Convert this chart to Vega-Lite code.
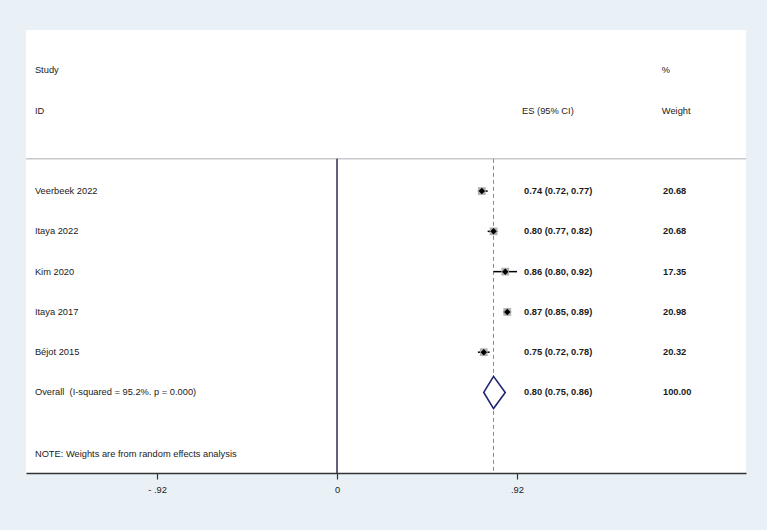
{
  "$schema": "https://vega.github.io/schema/vega-lite/v6.json",
  "width": 720,
  "height": 443,
  "autosize": {"type": "none"},
  "padding": {"left": 26, "top": 30, "right": 21, "bottom": 57},
  "background": "#e9f1f6",
  "config": {
    "view": {"fill": "white", "stroke": null},
    "font": "Liberation Sans",
    "text": {"font": "Liberation Sans", "fontSize": 9.3, "baseline": "middle", "align": "left", "color": "#1a1a1a"}
  },
  "datasets": {
    "studies": [
      {"study": "Veerbeek 2022", "row": 4, "es": 0.74, "lo": 0.72, "hi": 0.77, "es_ci": "0.74 (0.72, 0.77)", "weight": "20.68"},
      {"study": "Itaya 2022", "row": 5, "es": 0.80, "lo": 0.77, "hi": 0.82, "es_ci": "0.80 (0.77, 0.82)", "weight": "20.68"},
      {"study": "Kim 2020", "row": 6, "es": 0.86, "lo": 0.80, "hi": 0.92, "es_ci": "0.86 (0.80, 0.92)", "weight": "17.35"},
      {"study": "Itaya 2017", "row": 7, "es": 0.87, "lo": 0.85, "hi": 0.89, "es_ci": "0.87 (0.85, 0.89)", "weight": "20.98"},
      {"study": "Béjot 2015", "row": 8, "es": 0.75, "lo": 0.72, "hi": 0.78, "es_ci": "0.75 (0.72, 0.78)", "weight": "20.32"}
    ],
    "overallRow": [
      {"study": "Overall\u00a0 (I-squared = 95.2%. p = 0.000)", "row": 9, "es_ci": "0.80 (0.75, 0.86)", "weight": "100.00"}
    ],
    "overall": [
      {"x": 0.75, "top": 9, "bottom": 9},
      {"x": 0.80, "top": 8.6, "bottom": 9.4},
      {"x": 0.86, "top": 9, "bottom": 9}
    ],
    "leftText": [
      {"label": "Study", "row": 1},
      {"label": "ID", "row": 2},
      {"label": "NOTE: Weights are from random effects analysis", "row": 10.52}
    ],
    "esText": [
      {"label": "ES (95% CI)", "row": 2}
    ],
    "wText": [
      {"label": "%", "row": 1},
      {"label": "Weight", "row": 2}
    ]
  },
  "layer": [
    {
      "data": {"values": [{}]},
      "mark": {"type": "rule", "color": "#c6c8cc", "strokeWidth": 1.5},
      "encoding": {
        "y": {"datum": 3.2, "type": "quantitative", "scale": {"domain": [0, 11], "reverse": true, "nice": false, "zero": false}, "axis": null}
      }
    },
    {
      "data": {"values": [{}]},
      "mark": {"type": "rule", "color": "#8a8a8a", "strokeWidth": 1, "strokeDash": [4, 3]},
      "encoding": {
        "x": {"datum": 0.80, "type": "quantitative"},
        "y": {"datum": 3.2, "type": "quantitative"},
        "y2": {"datum": 11}
      }
    },
    {
      "data": {"values": [{}]},
      "mark": {"type": "rule", "color": "#2c2f52", "strokeWidth": 1.5},
      "encoding": {
        "x": {"datum": 0, "type": "quantitative"},
        "y": {"datum": 3.2, "type": "quantitative"},
        "y2": {"datum": 11}
      }
    },
    {
      "data": {"name": "studies"},
      "mark": {"type": "rule", "color": "black", "strokeWidth": 1.5},
      "encoding": {
        "x": {"field": "lo", "type": "quantitative",
          "scale": {"domain": [-1.5896, 2.0904], "nice": false, "zero": false},
          "axis": {"values": [-0.92, 0, 0.92], "labelExpr": "datum.value == 0 ? '0' : (datum.value < 0 ? '- .92' : '.92')", "title": null, "grid": false, "domainColor": "#333333", "domainWidth": 1.5, "tickColor": "#333333", "tickWidth": 1.2, "tickSize": 6, "labelFont": "Liberation Sans", "labelFontSize": 9.3, "labelColor": "#1a1a1a", "labelPadding": 6}},
        "x2": {"field": "hi"},
        "y": {"field": "row", "type": "quantitative"}
      }
    },
    {
      "data": {"name": "studies"},
      "mark": {"type": "point", "shape": "square", "filled": true, "color": "#b0b0b0", "size": 60, "opacity": 1},
      "encoding": {
        "x": {"field": "es", "type": "quantitative"},
        "y": {"field": "row", "type": "quantitative"}
      }
    },
    {
      "data": {"name": "studies"},
      "mark": {"type": "point", "shape": "diamond", "filled": true, "color": "black", "size": 42, "opacity": 1},
      "encoding": {
        "x": {"field": "es", "type": "quantitative"},
        "y": {"field": "row", "type": "quantitative"}
      }
    },
    {
      "data": {"name": "overall"},
      "mark": {"type": "area", "orient": "vertical", "fill": "white", "stroke": "#1f2570", "strokeWidth": 1.6, "opacity": 1, "fillOpacity": 1},
      "encoding": {
        "x": {"field": "x", "type": "quantitative"},
        "y": {"field": "top", "type": "quantitative"},
        "y2": {"field": "bottom"}
      }
    },
    {
      "data": {"name": "studies"},
      "mark": {"type": "text"},
      "encoding": {
        "x": {"datum": -1.544, "type": "quantitative"},
        "y": {"field": "row", "type": "quantitative"},
        "text": {"field": "study"}
      }
    },
    {
      "data": {"name": "overallRow"},
      "mark": {"type": "text"},
      "encoding": {
        "x": {"datum": -1.544, "type": "quantitative"},
        "y": {"field": "row", "type": "quantitative"},
        "text": {"field": "study"}
      }
    },
    {
      "data": {"name": "studies"},
      "mark": {"type": "text", "fontWeight": "bold"},
      "encoding": {
        "x": {"datum": 0.956, "type": "quantitative"},
        "y": {"field": "row", "type": "quantitative"},
        "text": {"field": "es_ci"}
      }
    },
    {
      "data": {"name": "overallRow"},
      "mark": {"type": "text", "fontWeight": "bold"},
      "encoding": {
        "x": {"datum": 0.956, "type": "quantitative"},
        "y": {"field": "row", "type": "quantitative"},
        "text": {"field": "es_ci"}
      }
    },
    {
      "data": {"name": "studies"},
      "mark": {"type": "text", "fontWeight": "bold"},
      "encoding": {
        "x": {"datum": 1.666, "type": "quantitative"},
        "y": {"field": "row", "type": "quantitative"},
        "text": {"field": "weight"}
      }
    },
    {
      "data": {"name": "overallRow"},
      "mark": {"type": "text", "fontWeight": "bold"},
      "encoding": {
        "x": {"datum": 1.666, "type": "quantitative"},
        "y": {"field": "row", "type": "quantitative"},
        "text": {"field": "weight"}
      }
    },
    {
      "data": {"name": "leftText"},
      "mark": {"type": "text"},
      "encoding": {
        "x": {"datum": -1.544, "type": "quantitative"},
        "y": {"field": "row", "type": "quantitative"},
        "text": {"field": "label"}
      }
    },
    {
      "data": {"name": "esText"},
      "mark": {"type": "text"},
      "encoding": {
        "x": {"datum": 0.946, "type": "quantitative"},
        "y": {"field": "row", "type": "quantitative"},
        "text": {"field": "label"}
      }
    },
    {
      "data": {"name": "wText"},
      "mark": {"type": "text"},
      "encoding": {
        "x": {"datum": 1.66, "type": "quantitative"},
        "y": {"field": "row", "type": "quantitative"},
        "text": {"field": "label"}
      }
    }
  ]
}
